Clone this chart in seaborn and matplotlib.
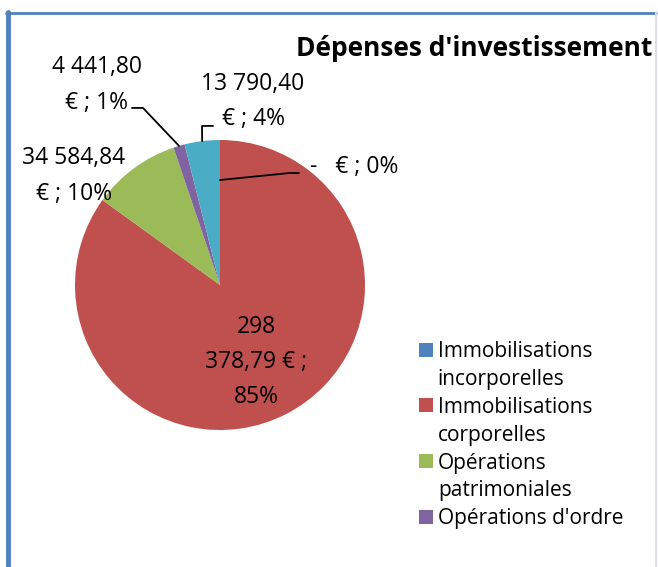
import matplotlib
matplotlib.use("Agg")
import matplotlib.pyplot as plt
from matplotlib.lines import Line2D
from matplotlib.patches import Patch
import seaborn as sns
import numpy as np

sns.set_theme(style="white")
plt.rcParams['font.family'] = ['Open Sans', 'DejaVu Sans']
plt.rcParams['text.color'] = 'black'

categories = ["Immobilisations incorporelles", "Immobilisations corporelles",
              "Opérations patrimoniales", "Opérations d'ordre", "Autres"]
values = [0.0, 298378.79, 34584.84, 4441.80, 13790.40]
value_labels = ["-   € ; 0%", "298\n378,79 € ;\n85%", "34 584,84\n€ ; 10%",
                "4 441,80\n€ ; 1%", "13 790,40\n€ ; 4%"]
legend_lines = [["Immobilisations", "incorporelles"],
                ["Immobilisations", "corporelles"],
                ["Opérations", "patrimoniales"],
                ["Opérations d'ordre"]]
colors = ["#4F81BD", "#C0504D", "#9BBB59", "#8064A2", "#4BACC6"]

W, H = 658, 567
fig = plt.figure(figsize=(W / 100, H / 100), dpi=100)
ax = fig.add_axes([0, 0, 1, 1])

wedges, _ = ax.pie(values, colors=colors, startangle=90, counterclock=False,
                   radius=1.0, wedgeprops=dict(linewidth=0))

cx, cy, r = 220, 285, 145
ax.set_xlim(-cx / r, (W - cx) / r)
ax.set_ylim(-(H - cy) / r, cy / r)
ax.set_aspect('auto')
ax.axis('off')

fs = 16.5
ls = 1.62
def mid_point(w, rad=1.0):
    a = np.deg2rad((w.theta1 + w.theta2) / 2)
    return rad * np.cos(a), rad * np.sin(a)

# zero wedge label
x0, y0 = mid_point(wedges[0], 0.724)
ax.plot([x0, 0.476, 0.545], [y0, 0.772, 0.772], color='black', lw=1.3)
ax.text(0.62, 0.814, value_labels[0], fontsize=fs, ha='left', va='center')

# big red wedge
ax.text(0.248, -0.531, value_labels[1], fontsize=fs, ha='center', va='center',
        linespacing=ls)
# green
ax.text(-1.007, 0.752, value_labels[2], fontsize=fs, ha='center', va='center',
        linespacing=ls)
# purple
px, py = mid_point(wedges[3])
ax.plot([px, -0.531, -0.607], [py, 1.221, 1.221], color='black', lw=1.3)
ax.text(-0.85, 1.379, value_labels[3], fontsize=fs, ha='center', va='center',
        linespacing=ls)
# cyan
qx, qy = mid_point(wedges[4])
ax.plot([qx, -0.124, -0.048], [qy, 1.097, 1.097], color='black', lw=1.3)
ax.text(0.228, 1.266, value_labels[4], fontsize=fs, ha='center', va='center',
        linespacing=ls)

fig.text(652 / W, 1 - 49 / H, "Dépenses d'investissement", fontsize=19,
         fontweight='bold', ha='right', va='center')

handles, labels = [], []
for w, lines in zip(wedges[:4], legend_lines):
    for i, line in enumerate(lines):
        handles.append(w if i == 0 else Patch(facecolor='none', edgecolor='none'))
        labels.append(line)

leg = ax.legend(handles, labels, loc='upper left',
                bbox_to_anchor=(419 / W, 1 - 341 / H), bbox_transform=fig.transFigure,
                frameon=False, fontsize=15, handlelength=0.65, handleheight=0.65,
                handletextpad=0.25, labelspacing=0.33, borderpad=0, borderaxespad=0)

fig.add_artist(Line2D([8 / W, 8 / W], [0, 1 - 12 / H], transform=fig.transFigure,
                      color="#4F81BD", lw=3.5))
fig.add_artist(Line2D([6 / W, 656 / W], [1 - 12.5 / H, 1 - 12.5 / H],
                      transform=fig.transFigure, color="#4F81BD", lw=2))
fig.add_artist(Line2D([656 / W, 656 / W], [0, 1 - 12.5 / H], transform=fig.transFigure,
                      color="#D9DEE8", lw=1.5))

fig.savefig("out.png", dpi=100)
